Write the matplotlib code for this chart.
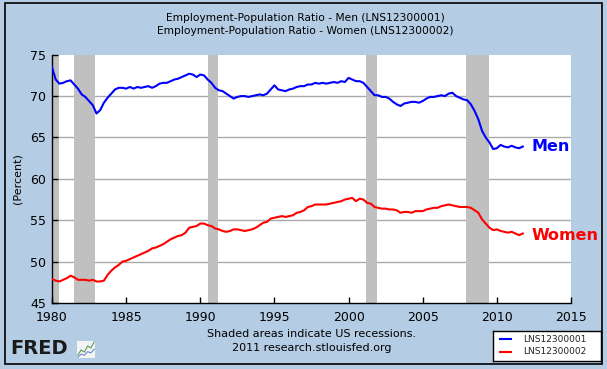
import matplotlib
matplotlib.use("Agg")
import matplotlib.pyplot as plt
from matplotlib.patches import Rectangle
import numpy as np

plt.rcParams['font.family'] = ['DejaVu Sans']

# Quarterly values, 1980Q1 .. 2011Q4
start_year = 1980
men = [
    73.5, 72.0, 71.5, 71.6,   # 1980
    71.8, 71.9, 71.4, 70.9,   # 1981
    70.2, 69.9, 69.4, 68.9,   # 1982
    67.9, 68.3, 69.2, 69.8,   # 1983
    70.3, 70.8, 71.0, 71.0,   # 1984
    70.9, 71.1, 70.9, 71.1,   # 1985
    71.0, 71.1, 71.2, 71.0,   # 1986
    71.2, 71.5, 71.6, 71.6,   # 1987
    71.8, 72.0, 72.1, 72.3,   # 1988
    72.5, 72.7, 72.6, 72.3,   # 1989
    72.6, 72.5, 72.0, 71.6,   # 1990
    71.0, 70.7, 70.6, 70.3,   # 1991
    70.0, 69.7, 69.9, 70.0,   # 1992
    70.0, 69.9, 70.0, 70.1,   # 1993
    70.2, 70.1, 70.3, 70.8,   # 1994
    71.3, 70.8, 70.7, 70.6,   # 1995
    70.8, 70.9, 71.1, 71.2,   # 1996
    71.2, 71.4, 71.4, 71.6,   # 1997
    71.5, 71.6, 71.5, 71.6,   # 1998
    71.7, 71.6, 71.8, 71.7,   # 1999
    72.2, 72.0, 71.8, 71.8,   # 2000
    71.6, 71.1, 70.6, 70.1,   # 2001
    70.1, 69.9, 69.9, 69.7,   # 2002
    69.3, 69.0, 68.8, 69.1,   # 2003
    69.2, 69.3, 69.3, 69.2,   # 2004
    69.4, 69.7, 69.9, 69.9,   # 2005
    70.0, 70.1, 70.0, 70.3,   # 2006
    70.4, 70.0, 69.8, 69.6,   # 2007
    69.5, 69.0, 68.2, 67.2,   # 2008
    65.8, 65.0, 64.4, 63.6,   # 2009
    63.7, 64.1, 63.9, 63.8,   # 2010
    64.0, 63.8, 63.7, 63.9,   # 2011
]
women = [
    47.9, 47.7, 47.6, 47.8,   # 1980
    48.0, 48.3, 48.1, 47.8,   # 1981
    47.8, 47.8, 47.7, 47.8,   # 1982
    47.6, 47.6, 47.7, 48.4,   # 1983
    48.9, 49.3, 49.6, 50.0,   # 1984
    50.1, 50.3, 50.5, 50.7,   # 1985
    50.9, 51.1, 51.3, 51.6,   # 1986
    51.7, 51.9, 52.1, 52.4,   # 1987
    52.7, 52.9, 53.1, 53.2,   # 1988
    53.5, 54.1, 54.2, 54.3,   # 1989
    54.6, 54.6, 54.4, 54.3,   # 1990
    54.0, 53.9, 53.7, 53.6,   # 1991
    53.7, 53.9, 53.9, 53.8,   # 1992
    53.7, 53.8, 53.9, 54.1,   # 1993
    54.4, 54.7, 54.8, 55.2,   # 1994
    55.3, 55.4, 55.5, 55.4,   # 1995
    55.5, 55.6, 55.9, 56.0,   # 1996
    56.2, 56.6, 56.7, 56.9,   # 1997
    56.9, 56.9, 56.9, 57.0,   # 1998
    57.1, 57.2, 57.3, 57.5,   # 1999
    57.6, 57.7, 57.3, 57.6,   # 2000
    57.5, 57.1, 57.0, 56.6,   # 2001
    56.5, 56.4, 56.4, 56.3,   # 2002
    56.3, 56.2, 55.9, 56.0,   # 2003
    56.0, 55.9, 56.1, 56.1,   # 2004
    56.1, 56.3, 56.4, 56.5,   # 2005
    56.5, 56.7, 56.8, 56.9,   # 2006
    56.8, 56.7, 56.6, 56.6,   # 2007
    56.6, 56.5, 56.2, 55.9,   # 2008
    55.1, 54.6, 54.1, 53.8,   # 2009
    53.9, 53.7, 53.6, 53.5,   # 2010
    53.6, 53.4, 53.2, 53.4,   # 2011
]
recessions = [(1980.0, 1980.5), (1981.5, 1982.9), (1990.55, 1991.2),
              (2001.2, 2001.9), (2007.9, 2009.45)]
x_ticks = [1980, 1985, 1990, 1995, 2000, 2005, 2010, 2015]
y_ticks = [45, 50, 55, 60, 65, 70, 75]
title_lines = ["Employment-Population Ratio - Men (LNS12300001)",
               "Employment-Population Ratio - Women (LNS12300002)"]
series_ids = ["LNS12300001", "LNS12300002"]
series_names = ["Men", "Women"]
fred_icon_vals = [1, 2, 1.6, 2.8, 2.4, 3.6]

bg = '#B4CCE4'
W, H = 607, 369
fig = plt.figure(figsize=(W / 100, H / 100), dpi=100, facecolor=bg)

# outer black border
fig.patches.append(Rectangle((5 / W, 1 - 364 / H), 597 / W, 361 / H,
                             transform=fig.transFigure, fill=False,
                             edgecolor='black', linewidth=1.2))

ax = fig.add_axes([52 / W, 1 - 303 / H, 519 / W, 248.3 / H])
ax.set_facecolor('white')

years = start_year + np.arange(len(men)) * 0.25

for a, b in recessions:
    ax.axvspan(a, b, color='#C0C0C0', lw=0, zorder=1)

for y in y_ticks[1:-1]:
    ax.axhline(y, color='#AAAAAA', lw=1, zorder=0.5)

ax.plot(years, men, color='#0000FF', lw=1.5, zorder=3)
ax.plot(years, women, color='#FF0000', lw=1.5, zorder=3)

ax.set_xlim(1980, 2015)
ax.set_ylim(45, 75)
ax.set_xticks(x_ticks)
ax.set_yticks(y_ticks)
ax.tick_params(direction='in', length=4, width=1, labelsize=9,
               colors='black', pad=4)
ax.tick_params(axis='x', pad=6)
for s in ['top', 'right']:
    ax.spines[s].set_visible(False)
for s in ['left', 'bottom']:
    ax.spines[s].set_linewidth(1)
ax.set_ylabel('(Percent)', fontsize=8, labelpad=6)

ax.text(years[-1] + 0.6, men[-1], series_names[0],
        color='#0000FF', fontsize=11.5, fontweight='bold', va='center', ha='left')
ax.text(years[-1] + 0.6, women[-1] - 0.2, series_names[1],
        color='#FF0000', fontsize=11.5, fontweight='bold', va='center', ha='left')

fig.text(305 / W, 1 - 18 / H, title_lines[0], ha='center', va='center', fontsize=7.7)
fig.text(305 / W, 1 - 31 / H, title_lines[1], ha='center', va='center', fontsize=7.7)

fig.text(312 / W, 1 - 334 / H, 'Shaded areas indicate US recessions.',
         ha='center', va='center', fontsize=8)
fig.text(312 / W, 1 - 348 / H, '2011 research.stlouisfed.org',
         ha='center', va='center', fontsize=8)

# FRED logo
fig.text(10 / W, 1 - 349 / H, 'FRED', ha='left', va='center', fontsize=14,
         fontweight='black', color='#1A1A1A')
iax = fig.add_axes([77 / W, 1 - 358 / H, 18 / W, 17 / H])
iax.set_facecolor('#F4F4F4')
iax.plot(range(len(fred_icon_vals)), fred_icon_vals, color='#5A9A5A', lw=0.8)
iax.plot(range(len(fred_icon_vals)), [v * 0.6 for v in fred_icon_vals],
         color='#6A8ACA', lw=0.8)
iax.set_xticks([]); iax.set_yticks([])
for s in iax.spines.values():
    s.set_visible(False)

# legend box
lax = fig.add_axes([493 / W, 1 - 361 / H, 108 / W, 30 / H])
lax.set_xlim(0, 108); lax.set_ylim(30, 0)
lax.set_facecolor('white')
for s in lax.spines.values():
    s.set_color('black'); s.set_linewidth(1)
lax.set_xticks([]); lax.set_yticks([])
for i, (sid, col) in enumerate(zip(series_ids, ['#0000FF', '#FF0000'])):
    yy = 8 + i * 13
    lax.plot([7, 18], [yy, yy], color=col, lw=1.5)
    lax.text(30, yy, sid, fontsize=6.5, va='center', ha='left', color='#222222')

fig.savefig('out.png', dpi=100, facecolor=bg)
